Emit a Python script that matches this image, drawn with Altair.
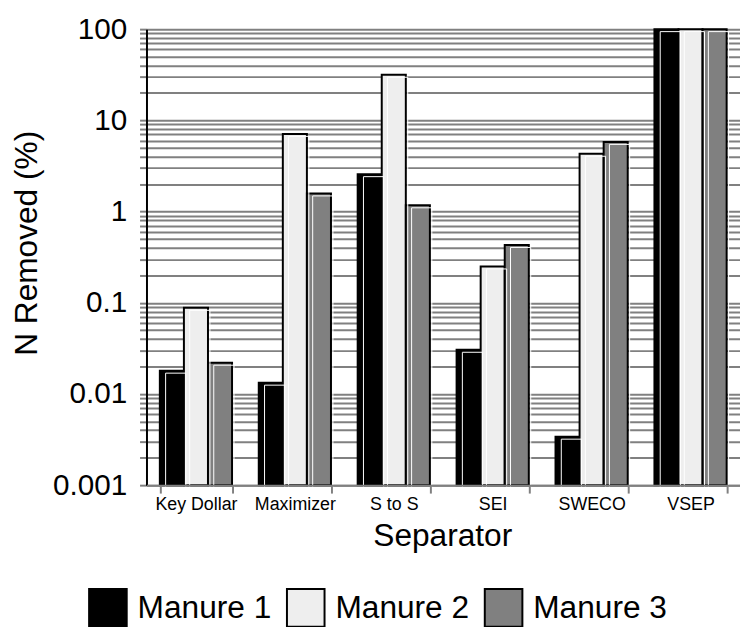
import altair as alt
import pandas as pd

separators = ["Key Dollar", "Maximizer", "S to S", "SEI", "SWECO", "VSEP"]
series = ["Manure 1", "Manure 2", "Manure 3"]
manure1 = [0.018, 0.0133, 2.57, 0.0305, 0.0034, 100]
manure2 = [0.088, 7.1, 31.6, 0.25, 4.3, 100]
manure3 = [0.022, 1.58, 1.17, 0.43, 5.8, 100]
colors = ["#000000", "#eeeeee", "#808080"]

rows = []
for name, vals in zip(series, [manure1, manure2, manure3]):
    for sep, v in zip(separators, vals):
        rows.append({"Separator": sep, "Manure": name, "value": v, "base": 0.001})
df = pd.DataFrame(rows)

tick_vals = []
for k in range(-3, 2):
    for i in range(1, 10):
        tick_vals.append(round(i * 10 ** k, 6))
tick_vals.append(100)

font = "Liberation Sans"

x_enc = alt.X("Separator:N", sort=separators,
              scale=alt.Scale(paddingInner=0.27, paddingOuter=0.135),
              axis=alt.Axis(title="Separator", labelAngle=0, labelFontSize=18,
                            labelPadding=3, tickSize=8, tickColor="#808080",
                            tickWidth=2, domainColor="#808080", domainWidth=2,
                            tickBand="extent", titleFontSize=32,
                            titleFontWeight="normal", titleX=299, titleY=61,
                            titleBaseline="alphabetic", labelColor="black",
                            titleColor="black", grid=False, zindex=1))
xoff_enc = alt.XOffset("Manure:N", sort=series,
                       scale=alt.Scale(paddingInner=0, paddingOuter=0))
y_enc = alt.Y("value:Q",
              scale=alt.Scale(type="log", domain=[0.001, 100], nice=False),
              axis=alt.Axis(title="N Removed (%)", values=tick_vals,
                            labelExpr="abs(log(datum.value)/LN10 - round(log(datum.value)/LN10)) < 0.001 ? datum.label : ''",
                            format="~g", labelFontSize=30, labelPadding=13,
                            tickSize=7, tickColor="#808080", tickWidth=2,
                            domainColor="black", domainWidth=2, grid=True,
                            gridColor="#808080", gridWidth=2, gridOpacity=1,
                            titleFontSize=32, titleFontWeight="normal",
                            titleX=-121, titleY=216, titleBaseline="middle",
                            labelColor="black", titleColor="black",
                            labelOverlap=False, labelBound=False))

base = alt.Chart(df)

bars = base.mark_bar(stroke="black", strokeWidth=2).encode(
    x=x_enc,
    xOffset=xoff_enc,
    y=y_enc,
    y2="base:Q",
    fill=alt.Fill("Manure:N", sort=series,
                  scale=alt.Scale(domain=series, range=colors),
                  legend=alt.Legend(title=None, orient="none", direction="horizontal",
                                    legendX=-59, legendY=565,
                                    symbolType="square", symbolSize=1444,
                                    symbolStrokeColor="black", symbolStrokeWidth=2,
                                    labelFontSize=32, labelOffset=10,
                                    columnPadding=11, labelColor="black",
                                    symbolOpacity=1)),
)

highlight = base.mark_bar(fill=None, stroke="white", strokeWidth=1,
                          width=alt.RelativeBandSize(0.84),
                          yOffset=2.5, y2Offset=4).encode(
    x=alt.X("Separator:N", sort=separators),
    xOffset=alt.XOffset("Manure:N", sort=series),
    y=alt.Y("value:Q"),
    y2="base:Q",
)

chart = alt.layer(bars, highlight).properties(
    width=600, height=461,
    autosize=alt.AutoSizeParams(type="none"),
    padding={"left": 140, "top": 18, "right": 0, "bottom": 140},
).configure(
    font=font,
).configure_view(stroke=None)

chart.save("out.html", embed_options={"renderer": "svg", "actions": False})
